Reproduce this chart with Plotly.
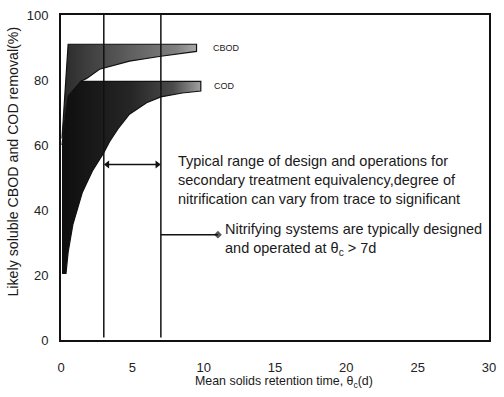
import plotly.graph_objects as go

# ---- data ----
# COD band outline (theta_c in d, removal in %)
cod_x = [0.07, 0.35, 0.5, 0.83, 1.5, 2.2, 3.0, 3.4, 4.0, 4.8, 6.0, 7.0, 8.5, 9.8, 9.8, 0.83, 0.5, 0.07]
cod_y = [20.5, 20.5, 27.0, 35.5, 45.5, 52.0, 57.6, 61.0, 65.0, 69.5, 73.0, 74.8, 76.0, 76.6, 79.6, 79.6, 75.0, 60.0]
# CBOD band outline
cbod_x = [0.07, 0.5, 9.5, 9.5, 7.0, 4.8, 2.7, 1.8, 1.4, 0.5, 0.07]
cbod_y = [62.0, 91.0, 91.0, 88.8, 87.3, 85.8, 83.3, 80.5, 79.6, 75.0, 62.0]
# design range boundaries
design_range = [3, 7]
range_arrow_x = [3.25, 6.75]
range_arrow_y = 54
nitrify_arrow_x = [7, 11.0]
nitrify_arrow_y = 32.4

x_ticks = [0, 5, 10, 15, 20, 25, 30]
y_ticks = [0, 20, 40, 60, 80, 100]

band_labels = ["CBOD", "COD"]
band_label_x = [10.5, 10.6]
band_label_y = [90.0, 78.2]

font = "Liberation Sans, Arial, sans-serif"
ink = "#1a1a1a"

fig = go.Figure()
fig.add_trace(go.Scatter(
    x=cod_x, y=cod_y, mode="lines", fill="toself",
    line=dict(color="#111", width=1.2),
    fillgradient=dict(type="horizontal",
                      colorscale=[[0, "#0e0e0e"], [0.5, "#262626"], [0.8, "#4a4a4a"], [1, "#a0a0a0"]]),
    hoverinfo="skip", showlegend=False))
fig.add_trace(go.Scatter(
    x=cbod_x, y=cbod_y, mode="lines", fill="toself",
    line=dict(color="#111", width=1.2),
    fillgradient=dict(type="horizontal",
                      colorscale=[[0, "#2a2a2a"], [0.5, "#5e5e5e"], [0.85, "#808080"], [1, "#a8a8a8"]]),
    hoverinfo="skip", showlegend=False))

for xv in design_range:
    fig.add_trace(go.Scatter(x=[xv, xv], y=[0.8, 100], mode="lines",
                             line=dict(color="#111", width=1.5),
                             hoverinfo="skip", showlegend=False))

# double arrow across design range
fig.add_trace(go.Scatter(x=range_arrow_x, y=[range_arrow_y, range_arrow_y], mode="lines+markers",
                         line=dict(color="#111", width=1.5),
                         marker=dict(symbol=["triangle-left", "triangle-right"], size=7, color="#111"),
                         hoverinfo="skip", showlegend=False))
# single arrow to nitrifying note
fig.add_trace(go.Scatter(x=nitrify_arrow_x, y=[nitrify_arrow_y, nitrify_arrow_y], mode="lines+markers",
                         line=dict(color="#111", width=1.5),
                         marker=dict(symbol=["line-ns", "diamond"], size=[1, 6], color="#111",
                                     line=dict(width=0)),
                         hoverinfo="skip", showlegend=False))

for lbl, lx, ly in zip(band_labels, band_label_x, band_label_y):
    fig.add_annotation(x=lx, y=ly, xref="x", yref="y", xanchor="left", yanchor="middle",
                       showarrow=False, text=lbl, font=dict(family=font, size=9, color=ink))

fig.add_annotation(x=8.05, y=49.2, xref="x", yref="y", xanchor="left", yanchor="middle",
                   align="left", showarrow=False,
                   text="Typical range of design and operations for<br>secondary treatment equivalency,degree of<br>nitrification can vary from trace to significant",
                   font=dict(family=font, size=14.5, color=ink))
fig.add_annotation(x=11.35, y=31.0, xref="x", yref="y", xanchor="left", yanchor="middle",
                   align="left", showarrow=False,
                   text="Nitrifying systems are typically designed<br>and operated at θ<sub>c</sub> &gt; 7d",
                   font=dict(family=font, size=14.5, color=ink))

# axis titles
fig.add_annotation(x=-61 / 435 + 12 / 435, y=(340 - 159) / 330, xref="paper", yref="paper",
                   xanchor="center", yanchor="middle", textangle=-90, showarrow=False,
                   text="Likely soluble CBOD and COD removal(%)",
                   font=dict(family=font, size=14.2, color=ink))
fig.add_annotation(x=(288 - 61) / 435, y=-(383 - 340) / 330, xref="paper", yref="paper",
                   xanchor="center", yanchor="middle", showarrow=False,
                   text="Mean solids retention time, θ<sub>c</sub>(d)",
                   font=dict(family=font, size=12.4, color=ink))

fig.update_layout(
    width=504, height=397,
    margin=dict(l=61, r=8, t=10, b=57),
    paper_bgcolor="white", plot_bgcolor="white",
    font=dict(family=font, size=13, color="#222"),
)
fig.update_xaxes(range=[0, 30], tickvals=x_ticks, showgrid=False, zeroline=False,
                 showline=True, mirror=True, linecolor="#111", linewidth=2,
                 ticks="", ticklabelstandoff=14,
                 tickfont=dict(family=font, size=13, color="#222"))
fig.update_yaxes(range=[0, 100], tickvals=y_ticks, showgrid=False, zeroline=False,
                 showline=True, mirror=True, linecolor="#111", linewidth=2,
                 ticks="", ticklabelstandoff=8,
                 tickfont=dict(family=font, size=13, color="#222"))

fig.write_html("out.html")
